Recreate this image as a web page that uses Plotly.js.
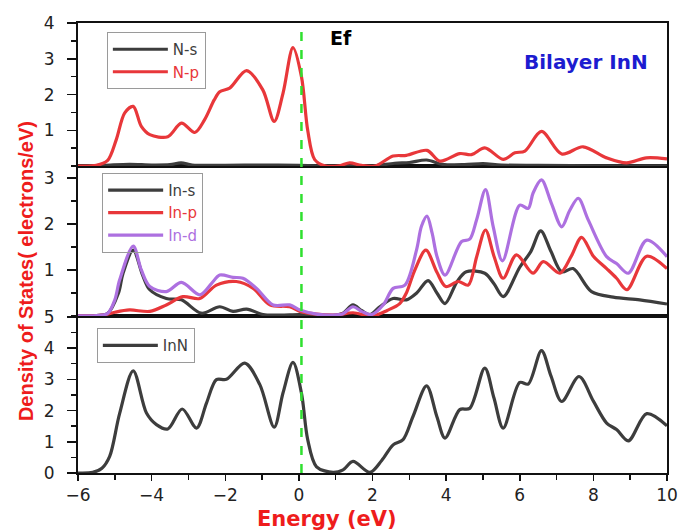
<!DOCTYPE html>
<html>
<head>
<meta charset="utf-8">
<script src="https://cdn.plot.ly/plotly-3.0.1.min.js"></script>
<style>html,body{margin:0;padding:0;background:#fff;}#chart{width:681px;height:532px;}</style>
</head>
<body>
<div id="chart"></div>
<script>
// ---- Top panel: N partial DOS ----
const eNs = [-6, -5.3, -4.6, -4.0, -3.5, -3.2, -2.9, -2, -1, 0, 0.5, 1, 2, 2.6, 3.0, 3.47, 3.9, 4.5, 5.0, 5.5, 6.5, 8, 10];
const dosNs = [0, 0.02, 0.05, 0.03, 0.04, 0.09, 0.03, 0.02, 0.03, 0.02, 0.01, 0.0, 0.0, 0.08, 0.1, 0.17, 0.05, 0.04, 0.07, 0.03, 0.02, 0.01, 0.01];

const eNp = [-6, -5.5, -5.2, -4.96, -4.73, -4.5, -4.28, -4.05, -3.56, -3.19, -2.83, -2.56, -2.3, -2.15, -1.88, -1.42, -0.98, -0.67, -0.43, -0.16, 0.07, 0.24, 0.43, 0.7, 1.1, 1.38, 1.7, 2.06, 2.56, 2.92, 3.48, 3.83, 4.37, 4.69, 5.05, 5.55, 5.87, 6.14, 6.59, 7.14, 7.72, 8.36, 8.9, 9.44, 10];
const dosNp = [0, 0.02, 0.15, 0.74, 1.49, 1.67, 1.11, 0.88, 0.82, 1.2, 0.94, 1.3, 1.85, 2.08, 2.18, 2.67, 2.13, 1.25, 2.04, 3.31, 2.5, 1.0, 0.18, 0.01, 0.01, 0.09, 0.02, 0.0, 0.28, 0.3, 0.44, 0.14, 0.35, 0.32, 0.51, 0.19, 0.37, 0.42, 0.97, 0.34, 0.54, 0.23, 0.09, 0.23, 0.2];

// ---- Middle panel: In partial DOS ----
const eIns = [-6, -5.5, -5.2, -4.9, -4.78, -4.5, -4.25, -4.05, -3.6, -3.19, -2.65, -2.15, -1.79, -1.42, -0.97, -0.5, 0, 0.5, 1.0, 1.2, 1.47, 1.7, 1.93, 2.2, 2.56, 2.92, 3.2, 3.51, 3.75, 3.97, 4.3, 4.55, 5.05, 5.3, 5.55, 6.0, 6.3, 6.57, 6.85, 7.14, 7.45, 7.95, 8.54, 9.26, 10];
const dosIns = [0, 0.01, 0.05, 0.5, 0.92, 1.43, 0.9, 0.57, 0.38, 0.35, 0.06, 0.2, 0.1, 0.15, 0.03, 0.02, 0.03, 0.02, 0.02, 0.06, 0.24, 0.12, 0.03, 0.2, 0.38, 0.35, 0.5, 0.77, 0.5, 0.27, 0.75, 0.96, 0.93, 0.7, 0.42, 1.06, 1.4, 1.85, 1.4, 0.96, 1.03, 0.53, 0.41, 0.35, 0.26];

const eInp = [-6, -5.3, -5.0, -4.6, -4.05, -3.6, -3.15, -2.69, -2.24, -1.7, -1.24, -0.79, -0.25, 0.03, 0.48, 1.0, 1.47, 2.0, 2.4, 2.74, 2.92, 3.15, 3.45, 3.75, 3.99, 4.33, 4.6, 4.83, 5.07, 5.3, 5.55, 5.91, 6.36, 6.64, 7.09, 7.4, 7.68, 8.0, 8.36, 8.63, 8.91, 9.45, 10];
const dosInp = [0, 0.02, 0.08, 0.13, 0.1, 0.24, 0.42, 0.38, 0.67, 0.75, 0.6, 0.24, 0.2, 0.1, 0.04, 0.02, 0.07, 0.0, 0.12, 0.27, 0.5, 1.0, 1.43, 0.95, 0.64, 0.75, 0.67, 1.29, 1.87, 1.3, 0.82, 1.33, 0.93, 1.18, 0.93, 1.3, 1.71, 1.3, 1.03, 0.82, 0.57, 1.30, 1.03];

const eInd = [-6, -5.5, -5.2, -5.0, -4.87, -4.5, -4.28, -4.05, -3.6, -3.19, -2.69, -2.37, -2.15, -1.79, -1.52, -1.15, -0.7, -0.25, 0.03, 0.48, 0.93, 1.2, 1.47, 1.7, 1.97, 2.3, 2.56, 2.88, 3.2, 3.33, 3.48, 3.62, 3.75, 3.97, 4.42, 4.64, 4.83, 5.07, 5.28, 5.53, 6.0, 6.23, 6.36, 6.59, 6.86, 7.14, 7.36, 7.59, 7.86, 8.36, 8.63, 8.95, 9.45, 10];
const dosInd = [0, 0.01, 0.05, 0.35, 0.78, 1.52, 1.0, 0.64, 0.53, 0.73, 0.46, 0.71, 0.89, 0.84, 0.82, 0.6, 0.24, 0.24, 0.13, 0.04, 0.02, 0.05, 0.2, 0.1, 0.03, 0.25, 0.6, 0.67, 1.45, 1.95, 2.17, 1.8, 1.3, 0.89, 1.62, 1.67, 2.1, 2.75, 1.94, 1.2, 2.41, 2.34, 2.67, 2.96, 2.45, 1.94, 2.3, 2.56, 2.09, 1.29, 1.14, 0.93, 1.65, 1.29];

// ---- Bottom panel: total DOS ----
const eInN = [-6, -5.6, -5.35, -5.14, -4.87, -4.5, -4.14, -3.87, -3.56, -3.17, -2.78, -2.51, -2.24, -1.97, -1.47, -1.06, -0.67, -0.43, -0.16, 0.07, 0.24, 0.48, 0.93, 1.2, 1.47, 1.93, 2.25, 2.56, 2.83, 3.1, 3.47, 3.75, 3.97, 4.37, 4.64, 5.05, 5.3, 5.55, 6.0, 6.23, 6.59, 6.85, 7.14, 7.61, 8.0, 8.36, 8.63, 8.95, 9.45, 10];
const dosInN = [0, 0.02, 0.15, 0.53, 1.9, 3.27, 1.92, 1.55, 1.41, 2.05, 1.44, 2.24, 2.99, 3.0, 3.52, 2.83, 1.47, 2.57, 3.54, 2.56, 1.07, 0.2, 0.02, 0.1, 0.37, 0.02, 0.4, 0.9, 1.07, 1.81, 2.79, 1.8, 1.12, 2.03, 2.07, 3.36, 2.4, 1.44, 2.9, 2.85, 3.92, 3.1, 2.29, 3.09, 2.3, 1.6, 1.39, 1.03, 1.9, 1.51];

const fermiE = 0.07;

const GRAY = '#3d3d3d', RED = '#e8373a', PURPLE = '#ad70e0', GREEN = '#2fe02f';
const lineStyle = (c) => ({color: c, width: 3.2, shape: 'spline', smoothing: 0.9});
const lbl = (t, c) => '<span style="color:' + c + '">' + t + '</span>';

const traces = [
  {x: eNs, y: dosNs, xaxis: 'x3', yaxis: 'y3', mode: 'lines', line: lineStyle(GRAY), name: lbl('N-s', GRAY), legend: 'legend'},
  {x: eNp, y: dosNp, xaxis: 'x3', yaxis: 'y3', mode: 'lines', line: lineStyle(RED), name: lbl('N-p', RED), legend: 'legend'},
  {x: eIns, y: dosIns, xaxis: 'x2', yaxis: 'y2', mode: 'lines', line: lineStyle(GRAY), name: lbl('In-s', GRAY), legend: 'legend2'},
  {x: eInp, y: dosInp, xaxis: 'x2', yaxis: 'y2', mode: 'lines', line: lineStyle(RED), name: lbl('In-p', RED), legend: 'legend2'},
  {x: eInd, y: dosInd, xaxis: 'x2', yaxis: 'y2', mode: 'lines', line: lineStyle(PURPLE), name: lbl('In-d', PURPLE), legend: 'legend2'},
  {x: eInN, y: dosInN, xaxis: 'x', yaxis: 'y', mode: 'lines', line: lineStyle(GRAY), name: lbl('InN', GRAY), legend: 'legend3'}
];

const tickFont = {family: 'DejaVu Sans', size: 17, color: '#222'};
const yBase = {
  showline: true, linecolor: '#111', linewidth: 2, mirror: true,
  ticks: 'outside', ticklen: 9, tickwidth: 1.5, tickcolor: '#111', ticklabelstandoff: 9,
  showgrid: false, zeroline: false, tickfont: tickFont,
  minor: {dtick: 0.5, ticks: 'outside', ticklen: 5, tickwidth: 1.5, tickcolor: '#111', showgrid: false}
};
const xBase = {
  range: [-6, 10], showline: true, linecolor: '#111', linewidth: 2, mirror: true,
  showgrid: false, zeroline: false
};
const legBase = {
  bordercolor: '#9a9a9a', borderwidth: 1, bgcolor: 'rgba(255,255,255,0)',
  font: {family: 'DejaVu Sans', size: 15, color: GRAY}, xanchor: 'left', yanchor: 'top',
  itemwidth: 55, tracegroupgap: 0
};

const layout = {
  width: 681, height: 532,
  margin: {l: 78, r: 14, t: 23, b: 59},
  paper_bgcolor: '#fff', plot_bgcolor: '#fff',
  showlegend: true,
  xaxis: Object.assign({}, xBase, {
    anchor: 'y', domain: [0, 1],
    ticks: 'outside', ticklen: 6, tickwidth: 1.5, tickcolor: '#111',
    tickvals: [-6, -4, -2, 0, 2, 4, 6, 8, 10], tickfont: tickFont,
    minor: {tickvals: [-5, -3, -1, 1, 3, 5, 7, 9], ticks: 'outside', ticklen: 5, tickwidth: 1.5, tickcolor: '#111'}
  }),
  xaxis2: Object.assign({}, xBase, {anchor: 'y2', matches: 'x', showticklabels: false, ticks: ''}),
  xaxis3: Object.assign({}, xBase, {anchor: 'y3', matches: 'x', showticklabels: false, ticks: ''}),
  yaxis: Object.assign({}, yBase, {domain: [0, 0.349], range: [0, 5.03], tickvals: [0, 1, 2, 3, 4, 5], anchor: 'x'}),
  yaxis2: Object.assign({}, yBase, {domain: [0.349, 0.682], range: [0, 3.26], tickvals: [1, 2, 3], anchor: 'x2'}),
  yaxis3: Object.assign({}, yBase, {domain: [0.682, 1], range: [0, 4.0], tickvals: [1, 2, 3, 4], anchor: 'x3'}),
  legend: Object.assign({}, legBase, {x: 0.049, y: 0.98}),
  legend2: Object.assign({}, legBase, {x: 0.041, y: 0.667}),
  legend3: Object.assign({}, legBase, {x: 0.032, y: 0.322}),
  shapes: [
    {type: 'line', xref: 'x', yref: 'paper', x0: fermiE, x1: fermiE, y0: 0, y1: 1,
     line: {color: GREEN, width: 2.5, dash: 'dash'}, layer: 'above'}
  ],
  annotations: [
    {text: '<b>Ef</b>', xref: 'paper', yref: 'paper', x: 0.447, y: 0.967, xanchor: 'center', yanchor: 'middle', showarrow: false,
     font: {family: 'DejaVu Sans', size: 19, color: '#000'}},
    {text: '<b>Bilayer InN</b>', xref: 'paper', yref: 'paper', x: 0.862, y: 0.913, xanchor: 'center', yanchor: 'middle', showarrow: false,
     font: {family: 'DejaVu Sans', size: 20, color: '#1c1cd0'}},
    {text: '<b>Density of States( electrons/eV)</b>', xref: 'paper', yref: 'paper', x: -0.088, y: 0.449,
     xanchor: 'center', yanchor: 'middle',
     textangle: -90, showarrow: false, font: {family: 'Liberation Sans, Arial', size: 20, color: '#ee1c1c'}},
    {text: '<b>Energy (eV)</b>', xref: 'paper', yref: 'paper', x: 0.423, y: -0.102, xanchor: 'center', yanchor: 'middle', showarrow: false,
     font: {family: 'DejaVu Sans', size: 21, color: '#ee1c1c'}}
  ]
};

Plotly.newPlot('chart', traces, layout, {displayModeBar: false, staticPlot: true});
</script>
</body>
</html>
